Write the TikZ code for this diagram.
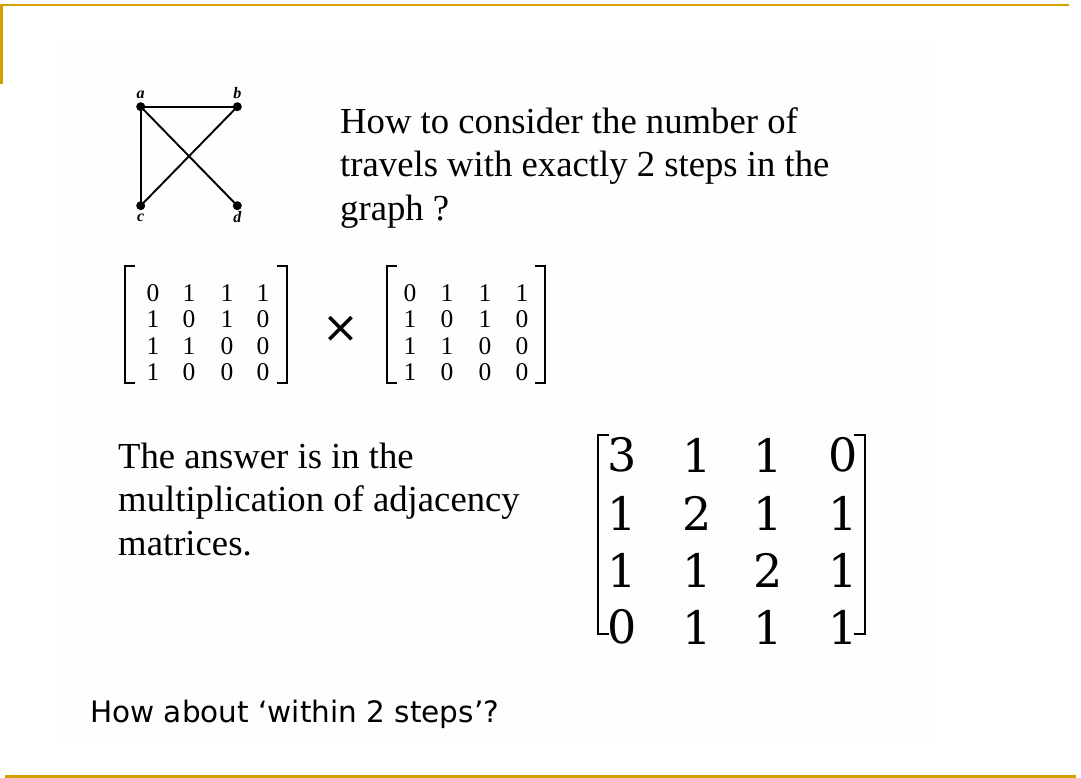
\documentclass[tikz,border=0pt]{standalone}
\usepackage{fontspec}
\setmainfont{Liberation Serif}
\newfontfamily\sansf{DejaVu Sans}
\newfontfamily\mathdig{DejaVu Serif}
\definecolor{gold}{RGB}{210,160,0}
\definecolor{faint}{RGB}{254,254,254}
\tikzset{
  rule/.style={draw=gold, line width=2.5pt},
  vtx/.style={circle, fill=black, inner sep=0pt, minimum size=9pt},
  vlabel/.style={font=\fontsize{16}{16}\selectfont\itshape\bfseries, inner sep=0pt},
  edge/.style={line width=1.9pt},
  body/.style={font=\fontsize{36.7}{43.5}\selectfont, anchor=base west, inner sep=0pt, align=left},
  entry/.style={font=\fontsize{25.5}{25.5}\selectfont, inner sep=0pt},
  bigentry/.style={font=\mathdig\fontsize{46}{46}\selectfont, inner sep=0pt},
  brk/.style={line width=2.4pt, line cap=butt},
  thinbrk/.style={line width=1.8pt}
}
\begin{document}
\begin{tikzpicture}[x=1pt,y=-1pt]
\useasboundingbox (0,0) rectangle (1081,778);
\fill[white] (0,0) rectangle (1081,778);
\fill[faint] (58,45) rectangle (935,740);
% frame rules
\draw[rule] (0,5) -- (1069,5);
\draw[rule] (1.5,5) -- (1.5,84);
\draw[rule] (5,776.5) -- (1076,776.5);
% graph
\node[vtx] (a) at (140.7,106.7) {};
\node[vtx] (b) at (237.3,106.7) {};
\node[vtx] (c) at (140.7,205.7) {};
\node[vtx] (d) at (237.3,205.7) {};
\node[vlabel] (la) at (140.7,95) {a};
\node[vlabel] (lb) at (237.3,93) {b};
\node[vlabel] (lc) at (140.7,218) {c};
\node[vlabel] (ld) at (237.3,217) {d};
\draw[edge] (a.center) -- (b.center);
\draw[edge] (a.center) -- (c.center);
\draw[edge] (a.center) -- (d.center);
\draw[edge] (b.center) -- (c.center);
% question text (anchor = baseline of last line)
\node[body] (q) at (340,220) {How to consider the number of\\travels with exactly 2 steps in the\\graph ?};
% left matrix
\foreach \r/\y in {1/293,2/319,3/346,4/372}{
  \foreach \c/\x in {1/153,2/189,3/227,4/263}{
    \coordinate (L\r\c) at (\x,\y);
  }
}
\node[entry] at (L11) {0};\node[entry] at (L12) {1};\node[entry] at (L13) {1};\node[entry] at (L14) {1};
\node[entry] at (L21) {1};\node[entry] at (L22) {0};\node[entry] at (L23) {1};\node[entry] at (L24) {0};
\node[entry] at (L31) {1};\node[entry] at (L32) {1};\node[entry] at (L33) {0};\node[entry] at (L34) {0};
\node[entry] at (L41) {1};\node[entry] at (L42) {0};\node[entry] at (L43) {0};\node[entry] at (L44) {0};
\draw[brk] (135,266) -- (125,266) -- (125,383) -- (135,383);
\draw[brk] (277,266) -- (287,266) -- (287,383) -- (277,383);
% times sign
\node[font=\sansf\fontsize{44}{44}\selectfont, inner sep=0pt] (x) at (341,329) {×};
% right matrix
\foreach \r/\y in {1/293,2/319,3/346,4/372}{
  \foreach \c/\x in {1/410,2/447,3/485,4/522}{
    \coordinate (R\r\c) at (\x,\y);
  }
}
\node[entry] at (R11) {0};\node[entry] at (R12) {1};\node[entry] at (R13) {1};\node[entry] at (R14) {1};
\node[entry] at (R21) {1};\node[entry] at (R22) {0};\node[entry] at (R23) {1};\node[entry] at (R24) {0};
\node[entry] at (R31) {1};\node[entry] at (R32) {1};\node[entry] at (R33) {0};\node[entry] at (R34) {0};
\node[entry] at (R41) {1};\node[entry] at (R42) {0};\node[entry] at (R43) {0};\node[entry] at (R44) {0};
\draw[brk] (397,266) -- (387,266) -- (387,383) -- (397,383);
\draw[brk] (535,266) -- (545,266) -- (545,383) -- (535,383);
% answer text (anchor = baseline of last line)
\node[body] (ans) at (118,555) {The answer is in the\\multiplication of adjacency\\matrices.};
% result matrix
\foreach \r/\y in {1/455,2/513,3/570,4/627}{
  \foreach \c/\x in {1/622,2/697,3/768,4/843}{
    \coordinate (M\r\c) at (\x,\y);
  }
}
\node[bigentry] at (M11) {3};\node[bigentry] at (M12) {1};\node[bigentry] at (M13) {1};\node[bigentry] at (M14) {0};
\node[bigentry] at (M21) {1};\node[bigentry] at (M22) {2};\node[bigentry] at (M23) {1};\node[bigentry] at (M24) {1};
\node[bigentry] at (M31) {1};\node[bigentry] at (M32) {1};\node[bigentry] at (M33) {2};\node[bigentry] at (M34) {1};
\node[bigentry] at (M41) {0};\node[bigentry] at (M42) {1};\node[bigentry] at (M43) {1};\node[bigentry] at (M44) {1};
\draw[thinbrk] (609,435) -- (598,435) -- (598,634) -- (609,634);
\draw[thinbrk] (854,435) -- (865,435) -- (865,634) -- (854,634);
% bottom question
\node[font=\sansf\fontsize{29.5}{29.5}\selectfont, anchor=base west, inner sep=0pt] (within) at (90,722) {How about ‘within 2 steps’?};
\end{tikzpicture}
\end{document}
